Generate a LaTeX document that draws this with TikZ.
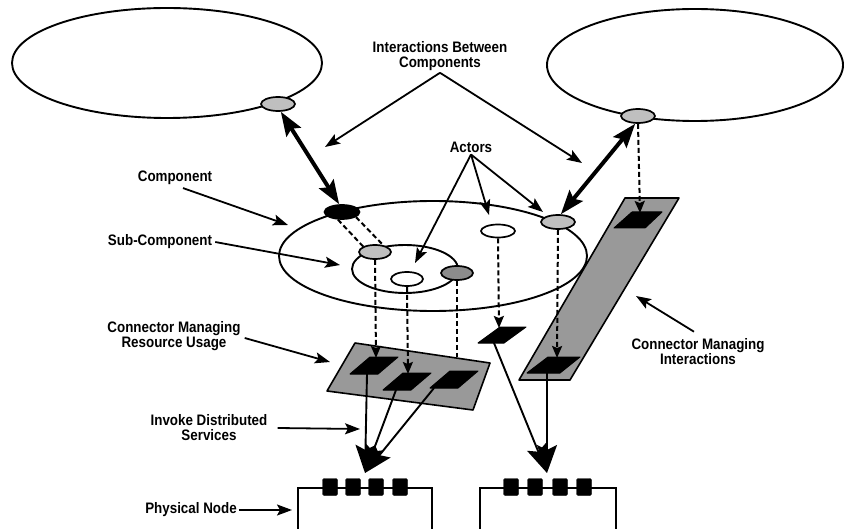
\documentclass[tikz,border=0pt]{standalone}
\usepackage{fontspec}
\newfontfamily\labfont[FakeStretch=0.88]{Liberation Sans}
\usetikzlibrary{arrows.meta,shapes.geometric}
\begin{document}
\begin{tikzpicture}[x=1pt,y=-1pt,
 bigell/.style={ellipse, draw, line width=1.9pt, inner sep=0pt},
 port/.style={ellipse, draw, line width=1.7pt, inner sep=0pt, minimum width=34pt, minimum height=14pt},
 lbl/.style={font=\labfont\bfseries\fontsize{15.2}{15}\selectfont, align=center, inner sep=0pt},
 ptr/.style={line width=1.8pt, -{Stealth[length=15pt,width=11pt,inset=3pt]}},
 dbl/.style={line width=4pt, {Stealth[length=24pt,width=17pt,inset=4pt]}-{Stealth[length=24pt,width=17pt,inset=4pt]}},
 dashln/.style={line width=2pt, dash pattern=on 5pt off 3pt},
 dasharr/.style={dashln, -{Stealth[length=12pt,width=10pt,inset=2pt]}},
 bigarr/.style={line width=1.9pt, -{Stealth[length=28pt,width=20pt,inset=5pt]}},
 blk/.style={fill=black, draw=black, line width=1pt, line join=round},
 hatch/.style={fill=black!40, draw=black, line width=1.6pt, line join=round},
 sq/.style={fill=black, draw=black, rounded corners=1.5pt, minimum width=15pt, minimum height=17pt, inner sep=0pt},
 pnode/.style={draw, line width=1.9pt, inner sep=0pt, rectangle, fill=white}]
\useasboundingbox (0,0) rectangle (845,529);

% --- big component ellipses
\node[bigell, minimum width=310pt, minimum height=110pt] (compA) at (167,63) {};
\node[bigell, minimum width=296pt, minimum height=112pt] (compB) at (695,65) {};
\node[port, fill=black!25] (portA) at (278,104) {};
\node[port, fill=black!25] (portB) at (638,116) {};

% --- main component and sub-component
\node[bigell, minimum width=308pt, minimum height=110pt] (main) at (433,256) {};
\node[bigell, minimum width=106pt, minimum height=48pt] (sub) at (405,269) {};
\node[port, fill=black, minimum width=35pt, minimum height=14pt] (bp) at (342,212) {};
\node[port, fill=black!25] (portR) at (558,222) {};
\node[port, fill=white, minimum height=13pt] (actW) at (498,231) {};
\node[port, fill=black!25, minimum width=32pt] (sa1) at (375,252) {};
\node[port, fill=white, minimum width=32pt] (sa2) at (407,279) {};
\node[port, fill=black!45, minimum width=32pt] (sa3) at (457,273) {};

% --- connectors (gray parallelograms and black pads)
\draw[hatch] (355,343) -- (490,363) -- (473,410) -- (327,391) -- cycle;
\draw[hatch] (625,198) -- (679,198) -- (570,380) -- (519,380) -- cycle;
\draw[blk] (370,357) -- (398,357) -- (378,374) -- (350,374) -- cycle;
\draw[blk] (403,373) -- (431,373) -- (411,390) -- (383,390) -- cycle;
\draw[blk] (450,371) -- (478,371) -- (458,388) -- (430,388) -- cycle;
\draw[blk] (500,327) -- (526,327) -- (504,343) -- (478,343) -- cycle;
\draw[blk] (632,212) -- (662,212) -- (645,228) -- (614,228) -- cycle;
\draw[blk] (548,357) -- (580,357) -- (560,373) -- (527,373) -- cycle;

\coordinate (b1t) at (376,358);
\coordinate (b2t) at (408,374);
\coordinate (b3t) at (457,357);
\coordinate (c1t) at (499,328);
\coordinate (d1t) at (640,213);
\coordinate (d2t) at (557,358);
\coordinate (b1b) at (367,374);
\coordinate (b2b) at (396,390);
\coordinate (b3b) at (434,388);
\coordinate (c1b) at (494,343);
\coordinate (d2b) at (547,373);

% --- physical nodes
\node[pnode, minimum width=134pt, minimum height=42pt] (pn1) at (365,509) {};
\node[pnode, minimum width=136pt, minimum height=42pt] (pn2) at (548,509) {};
\foreach \x/\n in {330/a,353/b,376/c,400/d} \node[sq] (s1\n) at (\x,487) {};
\foreach \x/\n in {511/a,535/b,560/c,584/d} \node[sq] (s2\n) at (\x,487) {};
\coordinate (tip1) at (365,473);
\coordinate (tip2) at (547,473);

% --- dashed links
\draw[dashln] (bp.-118) -- (sa1.155);
\draw[dashln] (bp.-20) -- (sa1.40);
\draw[dasharr] (sa1.south) -- (b1t);
\draw[dasharr] (sa2.south) -- (b2t);
\draw[dashln] (sa3.south) -- (b3t);
\draw[dasharr] (actW.south) -- (c1t);
\draw[dasharr] (portR.south) -- (d2t);
\draw[dasharr] (portB.south) -- (d1t);

% --- thick interaction arrows
\draw[dbl] (portA.-70) -- (bp.110);
\draw[dbl] (portB.-110) -- (portR.70);

% --- invoke arrows
\draw[bigarr] (b1b) -- (tip1);
\draw[bigarr] (b2b) -- (tip1);
\draw[bigarr] (b3b) -- (tip1);
\draw[bigarr] (c1b) -- (tip2);
\draw[bigarr] (d2b) -- (tip2);

% --- labels
\node[lbl] (lIBC) at (440,56) {Interactions Between\\Components};
\node[lbl] (lAct) at (471,147) {Actors};
\node[lbl] (lComp) at (175,178) {Component};
\node[lbl] (lSub) at (160,242) {Sub-Component};
\node[lbl] (lCMRU) at (174,336) {Connector Managing\\Resource Usage};
\node[lbl] (lIDS) at (209,428) {Invoke Distributed\\Services};
\node[lbl] (lPN) at (191,510) {Physical Node};
\node[lbl] (lCMI) at (698,352) {Connector Managing\\Interactions};

\coordinate (tIBC1) at (325,147);
\coordinate (tIBC2) at (582,163);
\coordinate (tAct1) at (415,263);
\coordinate (tAct2) at (489,215);
\coordinate (tAct3) at (543,212);
\coordinate (tComp) at (288,225);
\coordinate (tSub) at (340,265);
\coordinate (tCMRU) at (330,362);
\coordinate (tIDS) at (360,429);
\coordinate (tPN) at (292,510);
\coordinate (tCMI) at (636,296);

\draw[ptr] ([yshift=-2pt]lIBC.south) -- (tIBC1);
\draw[ptr] ([yshift=-2pt]lIBC.south) -- (tIBC2);
\draw[ptr] ([yshift=-2pt]lAct.south) -- (tAct1);
\draw[ptr] ([yshift=-2pt]lAct.south) -- (tAct2);
\draw[ptr] ([yshift=-2pt]lAct.south) -- (tAct3);
\draw[ptr] ([xshift=8pt,yshift=-3pt]lComp.south) -- (tComp);
\draw[ptr] ([xshift=3pt]lSub.east) -- (tSub);
\draw[ptr] ([xshift=4pt,yshift=-2pt]lCMRU.east) -- (tCMRU);
\draw[ptr] ([xshift=10pt]lIDS.east) -- (tIDS);
\draw[ptr] ([xshift=2pt]lPN.east) -- (tPN);
\draw[ptr] ([xshift=-4pt,yshift=7pt]lCMI.north) -- (tCMI);
\end{tikzpicture}
\end{document}
